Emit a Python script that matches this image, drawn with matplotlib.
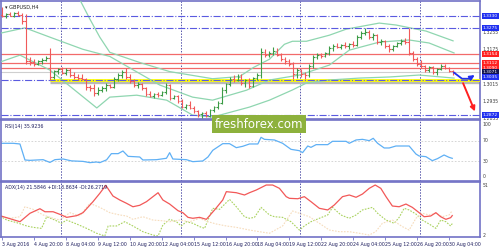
import numpy as np
import matplotlib.pyplot as plt

# GBPUSD H4 bars, bar 0 = 3 Aug 2016 12:00
opens = [1.3335, 1.3330, 1.3338, 1.3332, 1.3342, 1.3335, 1.3305, 1.3120, 1.3115, 1.3110,
         1.3120, 1.3128, 1.3138, 1.3050, 1.3075, 1.3085, 1.3065, 1.3080, 1.3055, 1.3050,
         1.3045, 1.3040, 1.3000, 1.2995, 1.2975, 1.2990, 1.2995, 1.3010, 1.3000, 1.3040,
         1.3055, 1.3070, 1.3050, 1.3030, 1.3010, 1.3015, 1.2995, 1.2970, 1.2960, 1.2970,
         1.2965, 1.2978, 1.3010, 1.2950, 1.2960, 1.2935, 1.2910, 1.2920, 1.2905, 1.2890,
         1.2875, 1.2880, 1.2870, 1.2895, 1.2910, 1.2930, 1.2990, 1.3015, 1.3040, 1.3035,
         1.3050, 1.3020, 1.3035, 1.3005, 1.3045, 1.3055, 1.3165, 1.3150, 1.3160, 1.3170,
         1.3150, 1.3130, 1.3120, 1.3110, 1.3060, 1.3080, 1.3060, 1.3055, 1.3100, 1.3140,
         1.3150, 1.3145, 1.3160, 1.3180, 1.3190, 1.3185, 1.3195, 1.3190, 1.3200, 1.3195,
         1.3235, 1.3250, 1.3255, 1.3235, 1.3240, 1.3210, 1.3215, 1.3190, 1.3175, 1.3190,
         1.3205, 1.3215, 1.3210, 1.3160, 1.3130, 1.3110, 1.3100, 1.3080, 1.3095, 1.3070,
         1.3085, 1.3100, 1.3090, 1.3075]
highs = [1.3370, 1.3345, 1.3350, 1.3348, 1.3352, 1.3345, 1.3340, 1.3140, 1.3130, 1.3128,
         1.3135, 1.3145, 1.3180, 1.3080, 1.3090, 1.3092, 1.3088, 1.3088, 1.3070, 1.3062,
         1.3060, 1.3045, 1.3010, 1.3015, 1.3000, 1.3005, 1.3020, 1.3015, 1.3050, 1.3065,
         1.3080, 1.3090, 1.3060, 1.3040, 1.3025, 1.3020, 1.3000, 1.2985, 1.2975, 1.2980,
         1.2985, 1.3020, 1.3015, 1.2965, 1.2965, 1.2945, 1.2925, 1.2935, 1.2915, 1.2895,
         1.2885, 1.2890, 1.2900, 1.2915, 1.2935, 1.3000, 1.3020, 1.3050, 1.3055, 1.3060,
         1.3060, 1.3040, 1.3045, 1.3050, 1.3065, 1.3180, 1.3175, 1.3170, 1.3185, 1.3180,
         1.3160, 1.3140, 1.3130, 1.3115, 1.3090, 1.3085, 1.3070, 1.3110, 1.3150, 1.3160,
         1.3160, 1.3165, 1.3190, 1.3200, 1.3205, 1.3200, 1.3210, 1.3205, 1.3215, 1.3240,
         1.3260, 1.3275, 1.3265, 1.3250, 1.3245, 1.3225, 1.3220, 1.3200, 1.3195, 1.3210,
         1.3225, 1.3230, 1.3275, 1.3170, 1.3140, 1.3125, 1.3105, 1.3100, 1.3100, 1.3090,
         1.3110, 1.3110, 1.3095, 1.3080]
lows = [1.3325, 1.3320, 1.3328, 1.3325, 1.3330, 1.3295, 1.3110, 1.3105, 1.3100, 1.3102,
        1.3110, 1.3120, 1.3035, 1.3040, 1.3060, 1.3060, 1.3055, 1.3050, 1.3040, 1.3035,
        1.3035, 1.2990, 1.2985, 1.2960, 1.2965, 1.2980, 1.2985, 1.2995, 1.2995, 1.3030,
        1.3045, 1.3040, 1.3020, 1.3000, 1.2995, 1.2990, 1.2960, 1.2955, 1.2950, 1.2955,
        1.2960, 1.2970, 1.2940, 1.2945, 1.2930, 1.2905, 1.2900, 1.2900, 1.2880, 1.2865,
        1.2860, 1.2865, 1.2865, 1.2885, 1.2900, 1.2925, 1.2975, 1.3005, 1.3025, 1.3030,
        1.3010, 1.3000, 1.2995, 1.3000, 1.3035, 1.3045, 1.3140, 1.3140, 1.3150, 1.3145,
        1.3120, 1.3110, 1.3100, 1.3040, 1.3045, 1.3050, 1.3040, 1.3050, 1.3090, 1.3130,
        1.3135, 1.3140, 1.3150, 1.3170, 1.3180, 1.3175, 1.3180, 1.3175, 1.3185, 1.3190,
        1.3225, 1.3240, 1.3225, 1.3220, 1.3200, 1.3195, 1.3180, 1.3165, 1.3170, 1.3185,
        1.3195, 1.3200, 1.3150, 1.3120, 1.3100, 1.3090, 1.3070, 1.3070, 1.3060, 1.3055,
        1.3080, 1.3085, 1.3070, 1.3058]
closes = [1.3330, 1.3338, 1.3332, 1.3342, 1.3335, 1.3305, 1.3120, 1.3115, 1.3110, 1.3120,
          1.3128, 1.3138, 1.3050, 1.3075, 1.3085, 1.3065, 1.3080, 1.3055, 1.3050, 1.3045,
          1.3040, 1.3000, 1.2995, 1.2975, 1.2990, 1.2995, 1.3010, 1.3000, 1.3040, 1.3055,
          1.3070, 1.3050, 1.3030, 1.3010, 1.3015, 1.2995, 1.2970, 1.2960, 1.2970, 1.2965,
          1.2978, 1.3010, 1.2950, 1.2960, 1.2935, 1.2910, 1.2920, 1.2905, 1.2890, 1.2875,
          1.2880, 1.2870, 1.2895, 1.2910, 1.2930, 1.2990, 1.3015, 1.3040, 1.3035, 1.3050,
          1.3020, 1.3035, 1.3005, 1.3045, 1.3055, 1.3165, 1.3150, 1.3160, 1.3170, 1.3150,
          1.3130, 1.3120, 1.3110, 1.3060, 1.3080, 1.3060, 1.3055, 1.3100, 1.3140, 1.3150,
          1.3145, 1.3160, 1.3180, 1.3190, 1.3185, 1.3195, 1.3190, 1.3200, 1.3195, 1.3235,
          1.3250, 1.3255, 1.3235, 1.3240, 1.3210, 1.3215, 1.3190, 1.3175, 1.3190, 1.3205,
          1.3215, 1.3210, 1.3160, 1.3130, 1.3110, 1.3100, 1.3080, 1.3095, 1.3070, 1.3085,
          1.3100, 1.3090, 1.3075, 1.3071]

# Bollinger bands (read at a few bars)
bb_up_idx = [19.5, 22, 24.5, 27, 34.5, 42, 52.75, 59.5, 63, 67, 70.75, 72.75, 76.25, 82, 86.25, 94.5, 98.75, 106.25, 113]
bb_up = [1.3405, 1.3316, 1.3232, 1.3162, 1.3115, 1.3073, 1.3040, 1.3050, 1.3092, 1.3130, 1.3199, 1.3213, 1.3213,
         1.3241, 1.3269, 1.3297, 1.3288, 1.3260, 1.3215]
bb_mid_idx = [-0.5, 5.75, 12, 20.25, 27, 39.5, 47.75, 52.75, 61.25, 67, 74.5, 82, 87, 94.5, 102, 107, 113.25]
bb_mid = [1.3250, 1.3275, 1.3232, 1.3176, 1.3143, 1.3011, 1.2955, 1.2941, 1.2987, 1.3034, 1.3057, 1.3103, 1.3172,
          1.3209, 1.3219, 1.3205, 1.3159]
bb_low_idx = [-0.5, 4.5, 12, 23.75, 27, 33.75, 41.25, 47.75, 52.75, 62, 67, 72.75, 76.25, 82, 89.5, 97, 104.5, 113.25]
bb_low = [1.3117, 1.3149, 1.3080, 1.2905, 1.2955, 1.2964, 1.2941, 1.2872, 1.2863, 1.2909, 1.2941, 1.2988, 1.3020,
          1.3034, 1.3043, 1.3048, 1.3057, 1.3043]

# levels
blue_levels = [1.3330, 1.3275, 1.3035, 1.2872]
red_levels = [1.3154, 1.3112, 1.3090]
last_price = 1.3071
yellow_level = 1.3035
axis_ticks = [1.3255, 1.3175, 1.3015, 1.2935, 1.2855]

# RSI(14)
rsi_idx = [-0.5, 2.8, 4.5, 5.75, 7, 8.7, 10.3, 12, 13.25, 15.3, 17.4, 20.3, 22, 23.7, 24.5, 26.2, 27.4, 29.1,
           30.3, 31.6, 34.5, 35.3, 38.7, 41.2, 42, 42.8, 46.2, 47.8, 50.3, 51.6, 52.8, 55.3, 57, 58.7, 60.3,
           62, 64.1, 64.9, 65.75, 68.25, 70.3, 72.4, 74.5, 75.3, 76.6, 77.4, 78.7, 81.6, 82.8, 86.2, 87,
           88.7, 90.3, 92, 93, 94.1, 95.75, 97, 98.7, 102, 103.7, 104.5, 106.2, 107.8, 109.1, 110.75, 112, 112.8]
rsi_val = [64.8, 64.8, 63.5, 32.7, 32, 32.7, 33.3, 28, 33.3, 34.6, 31, 30, 27.6, 28.8, 27.6, 33, 44.9, 44.9,
           50, 39.7, 38.5, 32.7, 33.3, 36, 46.8, 34.6, 33.3, 29.5, 30.8, 38.5, 51.3, 64.1, 64.1, 56.4, 59,
           63.5, 63.5, 76.3, 72.4, 71.2, 64.8, 53.2, 50.6, 46.8, 59.6, 57, 62.2, 62.2, 68.6, 68.6, 64.8,
           71.2, 72.4, 69.9, 74.4, 64.8, 55.8, 55.8, 59.6, 59.6, 44.2, 40.4, 39.1, 31.4, 35.3, 42.3, 37.8, 35.9]

# ADX(14) main line
adx_idx = [-0.5, 2, 4.5, 7, 9.5, 10.75, 12.8, 14.9, 16.2, 18.7, 20.3, 22.8, 24.5, 26, 27.8, 29.5, 31.2, 32.8,
           34.5, 36.2, 39.1, 40.3, 42, 44.1, 45.3, 46.6, 47.8, 49.5, 51.2, 53.25, 55.3, 56.2, 58.7, 60.75,
           62, 63.7, 66.2, 67.8, 69.5, 71.2, 72, 74.1, 75.75, 77.4, 79.5, 81.6, 83.25, 85.3, 87, 88.7,
           90.3, 92, 93.5, 94.9, 96.2, 97.8, 99.5, 101.2, 102.8, 104.5, 105.75, 107.4, 108.7, 109.9,
           111.2, 112.4, 112.8]
adx_val = [21.5, 18.6, 15.7, 23.8, 28.2, 25.3, 25.3, 22.2, 19.9, 21.5, 24.4, 35, 43, 50.7, 40.4, 36.6, 33.4, 30.1,
           31.5, 35, 43.6, 36.6, 32.7, 26.3, 24.4, 19.9, 19, 19.9, 18, 27, 36.6, 44.6, 43.6, 41.4,
           43.6, 46.2, 51, 51, 47.8, 39.8, 38.2, 37.8, 39.8, 35, 28.6, 27, 31.8, 39.8, 41.4, 39.2,
           42.3, 47.8, 51, 47.8, 39.8, 30.8, 30.1, 32.7, 29.5, 24.4, 20.5, 21.2, 24.4, 20.5,
           18, 19.6, 21.6]
# +DI
pdi_idx = [-0.5, 1.2, 3.7, 6.2, 7.8, 9.9, 11.2, 13.25, 14.9, 16.2, 18.7, 21.2, 23.7, 25.75, 26.6, 28.7, 30.75,
           32.8, 35.3, 37.8, 39.1, 40.3, 42, 43.7, 44.9, 46.2, 47.8, 49.5, 50.75, 52.8, 54.5, 57, 58.7,
           60.75, 62, 63.25, 64.9, 67, 68.25, 70.3, 72.4, 74.5, 75.75, 77.4, 79.5, 81.6, 82.8, 84.9, 87,
           88.7, 90.3, 92.8, 94.1, 96.2, 98.25, 99.5, 100.75, 102, 103.7, 105.3, 107, 108.7, 109.9,
           111.2, 112.4, 112.8]
pdi_val = [21.2, 17.3, 14.8, 11.6, 10.3, 9.3, 20.5, 17.3, 14.2, 17.3, 13.5, 9.3, 4.6, 2, 11.6, 11.6, 15.7,
           11.6, 6.1, 2.9, 2, 12.5, 18, 15.7, 11.6, 15.7, 14.2, 11, 9.3, 28.6, 27.6, 37.2, 30.1,
           20.5, 19, 19.9, 29.5, 22.2, 20.5, 19.9, 15.7, 7.7, 11.6, 15.7, 19, 22.2, 29.5, 22.2, 19,
           22.2, 27, 29.5, 23.8, 17.3, 14.2, 19.9, 28.6, 27, 23.1, 17.3, 13.5, 9.3, 17.3,
           15.7, 11.6, 13.9]
# -DI
mdi_idx = [-0.5, 2, 4.5, 5.75, 7.8, 10.3, 12.8, 14.5, 17, 19.5, 22, 24.5, 27, 29.5, 31.2, 32.8, 35.3, 37.8,
           40.3, 42, 44.5, 47, 49.5, 51.6, 53.7, 56.2, 58.7, 62, 64.5, 67, 70.3, 72.8, 74.5, 77, 79.5,
           82, 84.5, 87, 89.5, 92, 93.6, 95.3, 97.8, 100.3, 102, 103.7, 105.3, 107, 108.7, 110.3,
           112, 112.8]
mdi_val = [20.5, 19, 20.5, 30.1, 27.6, 22.2, 19, 17.3, 24.4, 21.2, 33.4, 29.5, 24.4, 22.2, 21.2, 18, 20.5, 17.3,
           16.6, 15.7, 17.3, 15.7, 19, 15.7, 13.5, 11.6, 10.3, 7.7, 6.1, 4.6, 11.6, 26, 23.8, 20.5, 14.2,
           7.7, 6.1, 6.1, 4.6, 2.9, 6.1, 14.2, 17.3, 11, 7.7, 19, 23.8, 22.2, 23.8, 20.5,
           22.2, 26.3]

# time axis
tick_idx = list(range(0, 113, 8))
tick_labels = ["3 Aug 2016", "4 Aug 20:00", "8 Aug 04:00", "9 Aug 12:00", "10 Aug 20:00",
               "12 Aug 04:00", "15 Aug 12:00", "16 Aug 20:00", "18 Aug 04:00", "19 Aug 12:00",
               "22 Aug 20:00", "24 Aug 04:00", "25 Aug 12:00", "26 Aug 20:00", "30 Aug 04:00"]
week_sep = [14.75, 44.75, 74.75, 104.75]

# forecast arrows
blue_path_idx = [113.25, 115.25, 117, 119]
blue_path_px = [1.3068, 1.3040, 1.3040, 1.3064]
red_path_idx = [115.25, 118.75]
red_path_px = [1.3031, 1.2877]

frame = "#7272c6"
up_col = "#3c9c46"
dn_col = "#f05a5a"
bb_col = "#8fd6b0"
blue = "#2030f0"
red = "#ff2020"

fig = plt.figure(figsize=(5, 2.5), dpi=100)
ax = fig.add_axes([0.002, 0.524, 0.958, 0.472])
ax_rsi = fig.add_axes([0.002, 0.276, 0.958, 0.244])
ax_adx = fig.add_axes([0.002, 0.052, 0.958, 0.22])

xlim = (-0.25, 119.75)
for a in (ax, ax_rsi, ax_adx):
    a.set_xlim(*xlim)
    a.set_yticks([])
    a.set_xticks([])
    for s in a.spines.values():
        s.set_color(frame)
        s.set_linewidth(1.2)
    for x in week_sep:
        a.axvline(x, color="#5555aa", lw=0.7, ls=(0, (1.5, 1.5)), zorder=1)

# ---- main price panel
ax.set_ylim(1.2854, 1.3399)
for lv in red_levels:
    ax.axhline(lv, color="#f26a6a", lw=0.9, zorder=2)
ax.axhline(last_price, color="#cfcfcf", lw=0.8, zorder=2)
ax.hlines(yellow_level - 0.0008, 12, xlim[1], color="#b9b9b9", lw=2.4, zorder=2)
ax.hlines(yellow_level, 12, xlim[1], color="#ffff00", lw=2.0, zorder=3)
for lv in blue_levels:
    ax.axhline(lv, color="#5a5ae0", lw=0.8, ls="-.", zorder=4)

ax.plot(bb_up_idx, bb_up, color=bb_col, lw=0.9, zorder=3)
ax.plot(bb_mid_idx, bb_mid, color=bb_col, lw=0.9, zorder=3)
ax.plot(bb_low_idx, bb_low, color=bb_col, lw=0.9, zorder=3)

idx = np.arange(len(opens))
o = np.array(opens)
c = np.array(closes)
cols = np.where(c >= o, up_col, dn_col)
ax.vlines(idx, lows, highs, colors=cols, lw=0.8, zorder=5)
ax.hlines(o, idx - 0.45, idx, colors=cols, lw=0.8, zorder=5)
ax.hlines(c, idx, idx + 0.45, colors=cols, lw=0.8, zorder=5)

ax.plot(blue_path_idx[:-1], blue_path_px[:-1], color=blue, lw=1.3, zorder=6)
ax.annotate("", xy=(blue_path_idx[-1], blue_path_px[-1]), xytext=(blue_path_idx[-2], blue_path_px[-2]),
            arrowprops=dict(arrowstyle="-|>", color=blue, lw=1.3, mutation_scale=7), zorder=6)
ax.annotate("", xy=(red_path_idx[1], red_path_px[1]), xytext=(red_path_idx[0], red_path_px[0]),
            arrowprops=dict(arrowstyle="-|>", color=red, lw=1.4, mutation_scale=7), zorder=6)

ax.text(0.008, 0.965, "\u25be GBPUSD,H4", transform=ax.transAxes, fontsize=3.6, color="#202020",
        va="top", ha="left")

# right price scale
ytr = ax.get_yaxis_transform()
for t in axis_ticks:
    ax.text(1.006, t, f"{t:.4f}", transform=ytr, fontsize=3.3, color="#404040", va="center", clip_on=False)
boxes = [(1.3330, blue, 0), (1.3275, blue, 0), (1.3154, red, 0), (1.3112, red, 0), (1.3090, red, 0),
         (1.3071, "#141450", 0), (1.3035, blue, 2.0), (1.2872, blue, 0)]
for val, col, dy in boxes:
    ax.annotate(f"{val:.4f}", xy=(1.006, val), xycoords=ytr, xytext=(0, dy), textcoords="offset points",
                fontsize=3.2, color="white", va="center", ha="left", annotation_clip=False,
                bbox=dict(boxstyle="square,pad=0.25", fc=col, ec="none"))

# ---- RSI
ax_rsi.set_ylim(-7.7, 109.6)
for lv in (70, 30):
    ax_rsi.axhline(lv, color="#cfcfcf", lw=0.6, ls=(0, (2, 2)))
ax_rsi.plot(rsi_idx, rsi_val, color="#5fb0f5", lw=0.9)
ax_rsi.text(0.008, 0.93, "RSI(14) 35.9236", transform=ax_rsi.transAxes, fontsize=3.4, color="#202060",
            va="top")
rtr = ax_rsi.get_yaxis_transform()
for lv in (100, 70, 30, 0):
    ax_rsi.text(1.006, lv, str(lv), transform=rtr, fontsize=3.3, color="#404040", va="center")

# ---- ADX
ax_adx.set_ylim(1.0, 53.9)
ax_adx.plot(pdi_idx, pdi_val, color="#a9d25e", lw=0.8, ls=(0, (1.5, 1.2)))
ax_adx.plot(mdi_idx, mdi_val, color="#f6dcbc", lw=0.8, ls=(0, (1.5, 1.2)))
ax_adx.plot(adx_idx, adx_val, color="#f25858", lw=0.9)
ax_adx.text(0.008, 0.95, "ADX(14) 21.5846 +DI:13.8634 -DI:26.2719", transform=ax_adx.transAxes,
            fontsize=3.4, color="#202060", va="top")
atr = ax_adx.get_yaxis_transform()
for lv in (51, 2):
    ax_adx.text(1.006, lv, str(lv), transform=atr, fontsize=3.3, color="#404040", va="center")

ax_adx.set_xticks(tick_idx)
ax_adx.set_xticklabels(tick_labels, fontsize=3.4, color="#202060", ha="left")
ax_adx.tick_params(axis="x", length=2.5, width=0.6, color=frame, pad=1)

# watermark
fig.text(0.518, 0.504, "freshforex.com", fontsize=8.5, color="white", ha="center", va="center",
         bbox=dict(boxstyle="square,pad=0.25", fc="#8db13c", ec="none"))

fig.savefig("out.png", dpi=100)
